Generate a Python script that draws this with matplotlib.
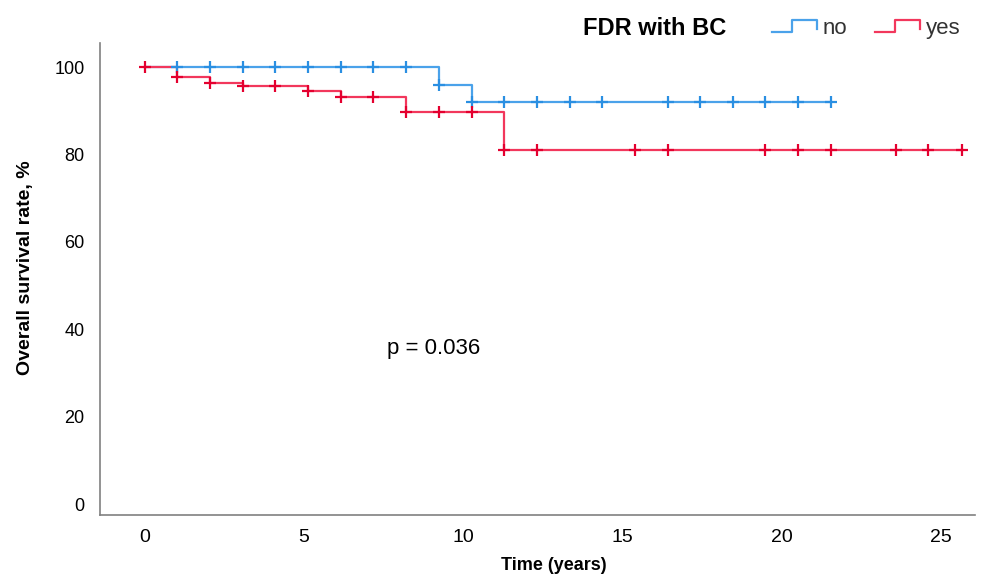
import numpy as np
import matplotlib
matplotlib.use("Agg")
import matplotlib.pyplot as plt
from matplotlib.legend_handler import HandlerBase
from matplotlib.lines import Line2D

# Kaplan-Meier curves (time in years, survival in %)
no_times = [0, 9.24, 10.26, 21.55]
no_surv = [100, 95.9, 91.9, 91.9]
no_censor_t = [1.01, 2.04, 3.07, 4.10, 5.13, 6.15, 7.17, 8.20, 9.24, 10.26,
               11.28, 12.32, 13.34, 14.35, 16.42, 17.44, 18.46, 19.48, 20.50, 21.55]

yes_times = [0, 1.01, 2.04, 3.07, 5.13, 6.15, 8.20, 11.29, 25.65]
yes_surv = [100, 97.8, 96.4, 95.6, 94.6, 93.2, 89.6, 81.0, 81.0]
yes_censor_t = [0, 1.01, 2.04, 3.07, 4.10, 5.13, 6.15, 7.17, 8.20, 9.24, 10.26,
                11.29, 12.32, 15.40, 16.42, 19.48, 20.50, 21.55, 23.59, 24.60, 25.65]

x_ticks = [0, 5, 10, 15, 20, 25]
y_ticks = [0, 20, 40, 60, 80, 100]
group_labels = ["no", "yes"]
legend_title = "FDR with BC"
p_text = "p = 0.036"

blue = "#4aa2ea"
blue_dark = "#2a8fe2"
red = "#f2375c"
red_dark = "#e4002f"

font = "Liberation Sans"


def step_value(times, surv, t):
    idx = np.searchsorted(times, t, side="right") - 1
    return np.asarray(surv)[idx]


class StepHandler(HandlerBase):
    # legend key drawn as a little step, like SPSS does
    def create_artists(self, legend, orig_handle, xdescent, ydescent,
                       width, height, fontsize, trans):
        x0 = -xdescent
        xs = [x0, x0 + width * 0.45, x0 + width * 0.45, x0 + width, x0 + width]
        lo = -ydescent
        hi = -ydescent + height
        ys = [lo, lo, hi, hi, lo + height * 0.2]
        line = Line2D(xs, ys, color=orig_handle.get_color(),
                      linewidth=1.6, transform=trans)
        return [line]


fig = plt.figure(figsize=(9.9, 5.78), dpi=100)
ax = fig.add_axes([0.101, 0.109, 0.884, 0.8166])

h_no, = ax.step(no_times, no_surv, where="post", color=blue, linewidth=1.6)
h_yes, = ax.step(yes_times, yes_surv, where="post", color=red, linewidth=1.6)

ax.plot(no_censor_t, step_value(no_times, no_surv, no_censor_t), linestyle="none",
        marker="+", markersize=9, markeredgewidth=1.6, color=blue_dark)
ax.plot(yes_censor_t, step_value(yes_times, yes_surv, yes_censor_t), linestyle="none",
        marker="+", markersize=9, markeredgewidth=1.6, color=red_dark)

ax.set_xlim(-1.41, 26.07)
ax.set_ylim(-2.5, 105.5)
ax.set_xticks(x_ticks)
ax.set_yticks(y_ticks)
ax.set_xticklabels([str(v) for v in x_ticks], family=font, fontsize=14)
ax.set_yticklabels([str(v) for v in y_ticks], family=font, fontsize=13)
ax.tick_params(axis="x", length=0, pad=10)
ax.tick_params(axis="y", length=0, pad=11)

for side in ["top", "right"]:
    ax.spines[side].set_visible(False)
for side in ["left", "bottom"]:
    ax.spines[side].set_color("#808080")
    ax.spines[side].set_linewidth(1.2)

ax.set_xlabel("Time (years)", family=font, fontsize=13, fontweight="bold")
ax.xaxis.set_label_coords(0.518, -0.088)
ax.set_ylabel("Overall survival rate, %", family=font, fontsize=14, fontweight="bold")
ax.yaxis.set_label_coords(-0.075, 0.523)

ax.text(7.6, 34.3, p_text, family=font, fontsize=16, ha="left", va="baseline")

fig.text(0.589, 0.951, legend_title, family=font, fontsize=17, fontweight="bold",
         ha="left", va="center")
leg = fig.legend([h_no, h_yes], group_labels, loc="center left",
                 bbox_to_anchor=(0.780, 0.951), ncol=2, frameon=False,
                 handler_map={Line2D: StepHandler()},
                 prop={"family": font, "size": 16},
                 handlelength=2.0, handleheight=0.45, handletextpad=0.27,
                 columnspacing=1.26, borderpad=0, borderaxespad=0)
for t in leg.get_texts():
    t.set_color("#333333")

fig.savefig("out.png", dpi=100)
